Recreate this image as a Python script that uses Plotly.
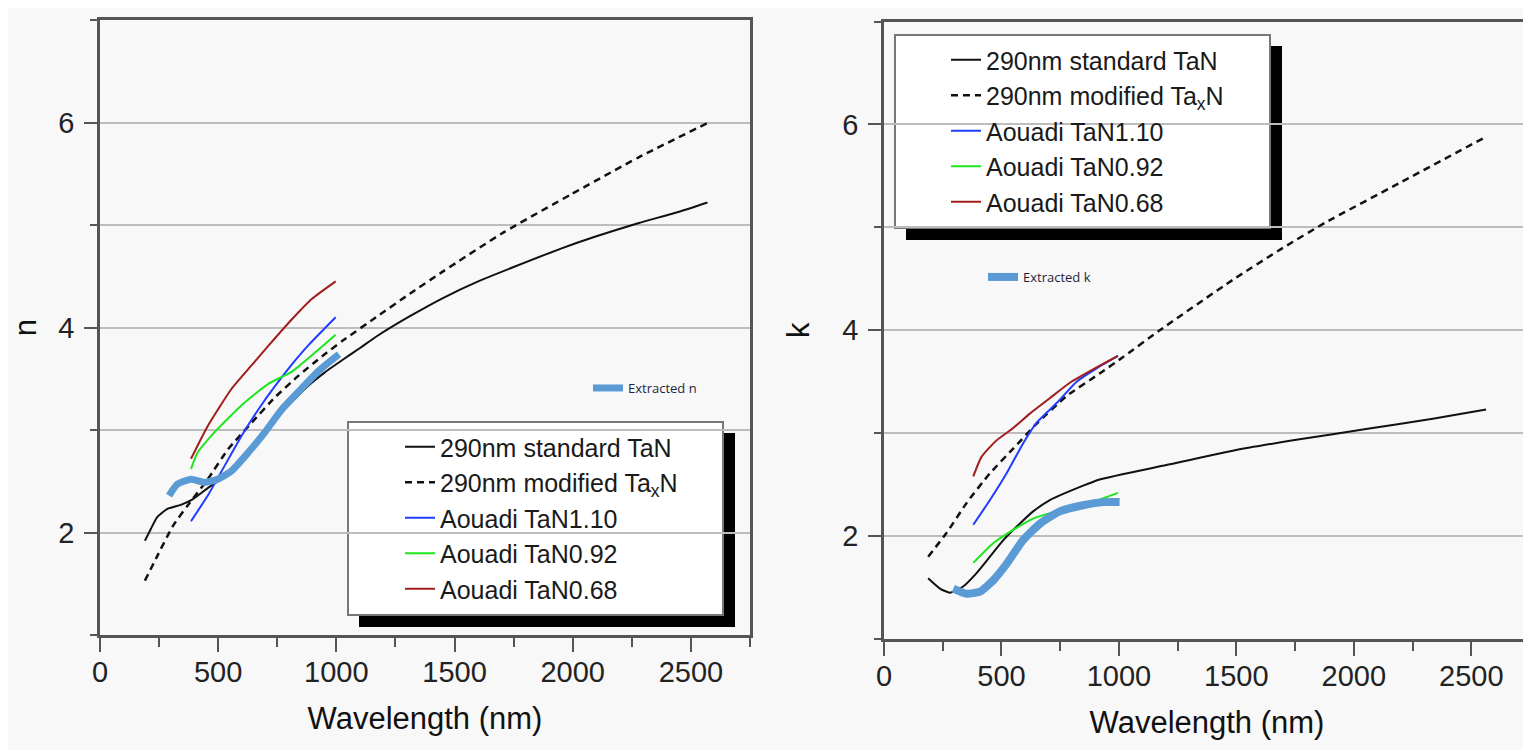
import plotly.graph_objects as go

# ---------------- data: refractive index n (left panel) ----------------
n_std_x = [190, 214, 242, 285, 342, 390, 460, 530, 600, 670, 740, 810, 880, 950, 1030, 1100, 1168, 1311, 1453, 1600, 1750, 1950, 2100, 2280, 2450, 2570]
n_std_y = [1.92, 2.03, 2.15, 2.23, 2.27, 2.32, 2.44, 2.55, 2.72, 2.91, 3.10, 3.27, 3.43, 3.56, 3.69, 3.80, 3.91, 4.11, 4.29, 4.45, 4.59, 4.77, 4.89, 5.02, 5.13, 5.22]

n_mod_x = [190, 240, 310, 370, 456, 541, 641, 741, 840, 940, 1026, 1168, 1311, 1453, 1709, 1994, 2279, 2575]
n_mod_y = [1.53, 1.76, 2.07, 2.26, 2.52, 2.81, 3.07, 3.32, 3.53, 3.72, 3.87, 4.10, 4.33, 4.55, 4.93, 5.30, 5.66, 6.00]

n_110_x = [385, 456, 527, 598, 670, 741, 812, 883, 997]
n_110_y = [2.11, 2.36, 2.65, 2.94, 3.20, 3.43, 3.64, 3.83, 4.10]

n_092_x = [385, 413, 485, 598, 712, 812, 912, 997]
n_092_y = [2.62, 2.78, 2.98, 3.24, 3.45, 3.57, 3.76, 3.93]

n_068_x = [385, 456, 556, 641, 712, 812, 897, 997]
n_068_y = [2.72, 3.04, 3.40, 3.63, 3.82, 4.08, 4.28, 4.45]

n_ext_x = [292, 327, 385, 442, 498, 556, 627, 698, 769, 855, 926, 1011]
n_ext_y = [2.36, 2.47, 2.52, 2.49, 2.52, 2.60, 2.78, 2.98, 3.20, 3.41, 3.58, 3.74]

# ---------------- data: extinction coefficient k (right panel) ----------------
k_std_x = [188, 238, 281, 337, 394, 451, 508, 564, 635, 706, 848, 918, 1202, 1485, 1769, 2052, 2336, 2563]
k_std_y = [1.59, 1.49, 1.45, 1.51, 1.64, 1.80, 1.96, 2.09, 2.24, 2.35, 2.49, 2.55, 2.69, 2.83, 2.94, 3.04, 3.14, 3.23]

k_mod_x = [188, 266, 351, 451, 550, 649, 777, 918, 1018, 1174, 1485, 1698, 1882, 2194, 2563]
k_mod_y = [1.80, 2.03, 2.32, 2.61, 2.85, 3.09, 3.36, 3.58, 3.74, 4.00, 4.49, 4.80, 5.05, 5.43, 5.88]

k_110_x = [380, 451, 522, 592, 649, 734, 820, 905, 996]
k_110_y = [2.11, 2.35, 2.61, 2.90, 3.10, 3.29, 3.50, 3.63, 3.75]

k_092_x = [380, 465, 550, 635, 734, 848, 996]
k_092_y = [1.74, 1.93, 2.06, 2.17, 2.24, 2.30, 2.42]

k_068_x = [380, 415, 479, 550, 621, 706, 791, 890, 996]
k_068_y = [2.58, 2.77, 2.93, 3.05, 3.19, 3.34, 3.49, 3.62, 3.75]

k_ext_x = [295, 351, 408, 465, 522, 592, 664, 748, 848, 933, 1003]
k_ext_y = [1.49, 1.44, 1.46, 1.57, 1.73, 1.96, 2.12, 2.24, 2.30, 2.33, 2.33]

x_ticks = [0, 500, 1000, 1500, 2000, 2500]
y_ticks = [2, 4, 6]

names = ["290nm standard TaN", "290nm modified Ta<sub>x</sub>N",
         "Aouadi TaN1.10", "Aouadi TaN0.92", "Aouadi TaN0.68"]
colors = ["#111111", "#111111", "#1f3cff", "#1ee61e", "#a11d1d"]
ext_color = "#5b9bd5"

# The page body has an 8 px margin: the figure starts at (8, 8) in the window.
OFF = 8
W, H = 1531 - OFF, 750 - OFF
FONT = "Liberation Sans, Arial, sans-serif"

def px_x(p):
    return (p - OFF) / W

def px_y(p):
    return 1 - (p - OFF) / H

fig = go.Figure()

def add_set(xs, ys, xa, ya, legend):
    for i, (x, y) in enumerate(zip(xs, ys)):
        fig.add_trace(go.Scatter(
            x=x, y=y, mode="lines", name=names[i], xaxis=xa, yaxis=ya,
            legend=legend, legendgroup=f"{legend}{i}",
            line=dict(color=colors[i], width=2.5 if i == 1 else 2,
                      dash="7px,5px" if i == 1 else "solid", shape="spline", smoothing=0.5),
        ))

add_set([n_std_x, n_mod_x, n_110_x, n_092_x, n_068_x],
        [n_std_y, n_mod_y, n_110_y, n_092_y, n_068_y], "x", "y", "legend")
fig.add_trace(go.Scatter(x=n_ext_x, y=n_ext_y, mode="lines", name="Extracted n",
                         xaxis="x", yaxis="y", legend="legend3",
                         line=dict(color=ext_color, width=7, shape="spline", smoothing=0.5)))

add_set([k_std_x, k_mod_x, k_110_x, k_092_x, k_068_x],
        [k_std_y, k_mod_y, k_110_y, k_092_y, k_068_y], "x2", "y2", "legend2")
fig.add_trace(go.Scatter(x=k_ext_x, y=k_ext_y, mode="lines", name="Extracted k",
                         xaxis="x2", yaxis="y2", legend="legend4",
                         line=dict(color=ext_color, width=8, shape="spline", smoothing=0.5)))

AX = "#555555"
GRID = "#bdbdbd"
tickfont = dict(family=FONT, size=29, color="#222222")
titlefont = dict(family=FONT, size=31, color="#111111")

def xaxis_main(domain, anchor):
    return dict(domain=domain, anchor=anchor, range=[0, 2750], tickvals=x_ticks,
                automargin=False,
                ticks="outside", ticklen=14, tickwidth=2, tickcolor=AX,
                minor=dict(dtick=250, tick0=0, ticks="outside", ticklen=9, tickwidth=2, tickcolor=AX),
                showline=True, linecolor=AX, linewidth=2.5, mirror=True,
                showgrid=False, zeroline=False, tickfont=tickfont, ticklabelstandoff=-5,
                title=dict(text="Wavelength (nm)", font=titlefont, standoff=21))

def yaxis_main(domain, anchor, title):
    return dict(domain=domain, anchor=anchor, range=[1, 7], tickvals=y_ticks,
                automargin=False,
                ticks="outside", ticklen=13, tickwidth=2, tickcolor=AX,
                minor=dict(dtick=1, tick0=0, ticks="outside", ticklen=7, tickwidth=2,
                           tickcolor=AX, showgrid=True, gridcolor=GRID, gridwidth=2),
                showline=True, linecolor=AX, linewidth=2.5, mirror=True,
                showgrid=True, gridcolor=GRID, gridwidth=2, zeroline=False,
                tickfont=tickfont, ticklabelstandoff=4,
                title=dict(text=title, font=titlefont, standoff=24))

def xaxis_top(overlay, anchor):
    return dict(overlaying=overlay, anchor=anchor, side="top", range=[0, 2750],
                automargin=False,
                tickvals=x_ticks, ticks="inside", ticklen=14, tickwidth=2, tickcolor=AX,
                minor=dict(dtick=250, tick0=0, ticks="inside", ticklen=8, tickwidth=2, tickcolor=AX),
                showticklabels=False, showline=False, showgrid=False, zeroline=False)

def yaxis_right(overlay, anchor):
    return dict(overlaying=overlay, anchor=anchor, side="right", range=[1, 7],
                automargin=False,
                tickvals=y_ticks, ticks="inside", ticklen=14, tickwidth=2, tickcolor=AX,
                minor=dict(dtick=1, tick0=0, ticks="inside", ticklen=7, tickwidth=2, tickcolor=AX),
                showticklabels=False, showline=False, showgrid=False, zeroline=False)

xl = [px_x(100), px_x(750)]
xr = [px_x(884), px_x(1530)]
yl = [px_y(635), px_y(20)]
yr = [px_y(639), px_y(21.5)]

legfont = dict(family=FONT, size=25, color="#1a1a1a")
extfont = dict(family="Open Sans, sans-serif", size=13, color="#1f1f3f")

shapes = []
for (x0, y0, x1, y1) in [(348, 422, 723, 615), (895, 35, 1270, 228)]:
    shapes.append(dict(type="rect", xref="paper", yref="paper", layer="below",
                       x0=px_x(x0 + 11), x1=px_x(x1 + 12), y0=px_y(y1 + 12), y1=px_y(y0 + 11),
                       fillcolor="#000000", line=dict(width=0)))
    shapes.append(dict(type="rect", xref="paper", yref="paper", layer="below",
                       x0=px_x(x0), x1=px_x(x1), y0=px_y(y1), y1=px_y(y0),
                       fillcolor="#ffffff", line=dict(color="#777777", width=2)))

fig.update_layout(
    width=W, height=H, autosize=False,
    margin=dict(l=0, r=0, t=0, b=0, autoexpand=False),
    paper_bgcolor="#f8f8f8", plot_bgcolor="rgba(0,0,0,0)",
    font=dict(family=FONT),
    xaxis=xaxis_main(xl, "y"), yaxis=yaxis_main(yl, "x", "n"),
    xaxis2=xaxis_main(xr, "y2"), yaxis2=yaxis_main(yr, "x2", "k"),
    xaxis3=xaxis_top("x", "y"), yaxis3=yaxis_right("y", "x"),
    xaxis4=xaxis_top("x2", "y2"), yaxis4=yaxis_right("y2", "x2"),
    shapes=shapes,
    showlegend=True,
    legend=dict(x=px_x(400), y=px_y(424), xanchor="left", yanchor="top",
                bgcolor="rgba(0,0,0,0)", borderwidth=0, font=legfont, tracegroupgap=0),
    legend2=dict(x=px_x(946), y=px_y(37), xanchor="left", yanchor="top",
                 bgcolor="rgba(0,0,0,0)", borderwidth=0, font=legfont, tracegroupgap=0),
    legend3=dict(x=px_x(588), y=px_y(373), xanchor="left", yanchor="top",
                 bgcolor="rgba(0,0,0,0)", borderwidth=0, font=extfont),
    legend4=dict(x=px_x(983), y=px_y(262), xanchor="left", yanchor="top",
                 bgcolor="rgba(0,0,0,0)", borderwidth=0, font=extfont),
)

fig.write_html("out.html")
